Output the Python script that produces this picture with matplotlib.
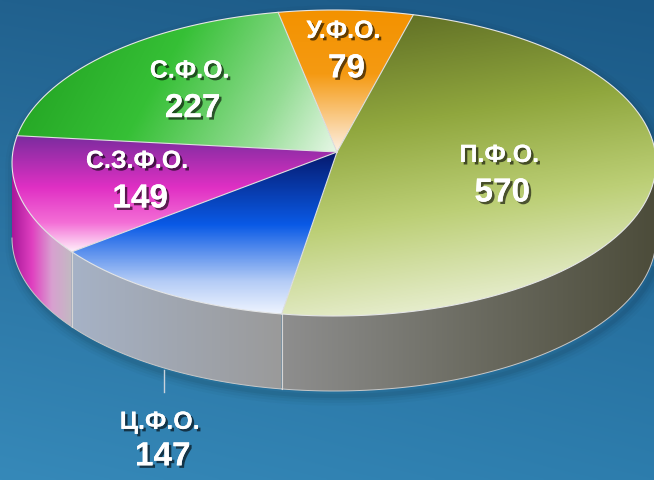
import numpy as np
import matplotlib
matplotlib.use('Agg')
import matplotlib.pyplot as plt
from matplotlib.patches import Polygon
from matplotlib.colors import LinearSegmentedColormap, to_rgb
import matplotlib.patheffects as pe

# ---------------- data ----------------
regions = ['У.Ф.О.', 'П.Ф.О.', 'Ц.Ф.О.', 'С.З.Ф.О.', 'С.Ф.О.']
values = [79, 570, 147, 149, 227]

# ---------------- style ----------------
top_stops = [
    [(0, '#f39200'), (0.45, '#f59a12'), (1, '#fdf0e4')],
    [(0, '#5a6822'), (0.35, '#90a73e'), (0.62, '#bccf76'), (1, '#f7f9ef')],
    [(0, '#061a6e'), (0.45, '#0a5ae6'), (0.8, '#b4ccf6'), (1, '#eef4ff')],
    [(0, '#7a2c9e'), (0.45, '#e030c4'), (0.75, '#f46ed6'), (1, '#fff0fa')],
    [(0, '#1e9c1e'), (0.45, '#36c036'), (0.78, '#94dc94'), (1, '#e6f7e6')],
]
top_dirs = [(0, 1), (0.15, 1), (0, 1), (0, 1), (1, 0.55)]
side_stops = [
    ['#c07010', '#905008'],
    ['#8e8e8e', '#6c6c62', '#4c4c3a'],
    ['#a6b2c6', '#9a9a9a'],
    ['#a8189a', '#e040c0', '#d8a0d0', '#c2bac2'],
    ['#209020', '#60a060'],
]
label_frac = [0.72, 0.52, None, 0.63, 0.64]

W, H = 654, 480
fig = plt.figure(figsize=(6.54, 4.8), dpi=100)
ax = fig.add_axes([0, 0, 1, 1])

# background gradient
yy, xx = np.mgrid[0:1:200j, 0:1:200j]
c_tl = np.array(to_rgb('#21618e')); c_tr = np.array(to_rgb('#1b5986'))
c_bl = np.array(to_rgb('#3689b9')); c_br = np.array(to_rgb('#2d7dad'))
X = xx[..., None]; Y = yy[..., None]
bg = c_tl*(1-X)*(1-Y) + c_tr*X*(1-Y) + c_bl*(1-X)*Y + c_br*X*Y
ax.imshow(bg, extent=(0, W, H, 0), aspect='auto', zorder=0, interpolation='bilinear')

# geometry
cx, cy, a, b = 334.0, 163.0, 322.0, 153.0
apx, apy = 337.0, 152.0
D = 75.0
start = 100.0

def rim(th, z=0.0):
    t = np.radians(th)
    return np.column_stack([cx + a*np.cos(t), cy - b*np.sin(t) + z])

def grad_fill(poly, stops, direction, zorder):
    patch = Polygon(poly, closed=True, facecolor='none', edgecolor='none')
    ax.add_patch(patch)
    x0, y0 = poly.min(0); x1, y1 = poly.max(0)
    n = 300
    gx, gy = np.meshgrid(np.linspace(x0, x1, n), np.linspace(y0, y1, n))
    dx, dy = direction
    proj = gx*dx + gy*dy
    t = (proj - proj.min())/(proj.max() - proj.min())
    cmap = LinearSegmentedColormap.from_list('g', stops)
    im = ax.imshow(cmap(t), extent=(x0, x1, y1, y0), aspect='auto',
                   zorder=zorder, interpolation='bilinear')
    im.set_clip_path(patch)

total = float(sum(values))
bounds = [start]
for v in values:
    bounds.append(bounds[-1] - 360.0*v/total)

# soft shadow
sil_top = rim(np.linspace(0, 180, 120))
sil_bot = rim(np.linspace(180, 360, 120), D)
sil = np.vstack([sil_top, sil_bot]) + np.array([3, 5])
for lw, al in [(14, 0.025), (10, 0.03), (6, 0.04), (3, 0.05)]:
    ax.add_patch(Polygon(sil, closed=True, facecolor='none',
                         edgecolor=(0, 0, 0, al), lw=lw, zorder=1, joinstyle='round'))

# side faces
for i in range(len(values)):
    hi, lo = bounds[i], bounds[i+1]
    for shift in (-360, 0, 360):
        s_lo = max(lo + shift, -180.0); s_hi = min(hi + shift, 0.0)
        if s_hi - s_lo > 0.01:
            th = np.linspace(s_lo, s_hi, 80)
            poly = np.vstack([rim(th), rim(th[::-1], D)])
            grad_fill(poly, side_stops[i], (1, 0), 2)
            ax.plot(*rim(th, D).T, color='#c8c8c8', lw=0.7, zorder=3)
for bd in bounds:
    for shift in (-360, 0, 360):
        t = bd + shift
        if -180 < t < 0:
            p = np.vstack([rim([t]), rim([t], D)])
            ax.plot(p[:, 0], p[:, 1], color='#d6d6d6', lw=0.8, zorder=3)

# top face
for i in range(len(values)):
    hi, lo = bounds[i], bounds[i+1]
    th = np.linspace(hi, lo, 150)
    poly = np.vstack([[apx, apy], rim(th)])
    grad_fill(poly, top_stops[i], top_dirs[i], 4)
ax.plot(*rim(np.linspace(0, 360, 400)).T, color='#e6e6e6', lw=0.8, zorder=5)
for bd in bounds[:-1]:
    p = rim([bd])[0]
    ax.plot([apx, p[0]], [apy, p[1]], color='#e0e0e0', lw=0.8, zorder=5)

# labels
fx = [pe.withSimplePatchShadow(offset=(1.8, -1.8), shadow_rgbFace='black', alpha=0.6),
      pe.Normal()]
font = dict(family='Liberation Sans', weight='bold', color='white',
            ha='center', va='center', zorder=7)
for i in range(len(values)):
    mid = (bounds[i] + bounds[i+1])/2.0
    if label_frac[i] is None:
        p = rim([mid], D)[0]
        ax.plot([p[0], p[0]], [p[1] + 2, p[1] + 24], color='#c8d2dc', lw=1.0, zorder=6)
        lx, ly = p[0] - 4, p[1] + 54
        gap = 35
    else:
        r = rim([mid])[0]
        f = label_frac[i]
        lx = apx + f*(r[0] - apx); ly = apy + f*(r[1] - apy)
        ly = ly - 19
        gap = 38
    ax.text(lx, ly, regions[i], fontsize=18, path_effects=fx, **font)
    ax.text(lx + 3, ly + gap, str(values[i]), fontsize=24, path_effects=fx, **font)

ax.set_xlim(0, W); ax.set_ylim(H, 0)
ax.axis('off')
fig.savefig('out.png', dpi=100)
